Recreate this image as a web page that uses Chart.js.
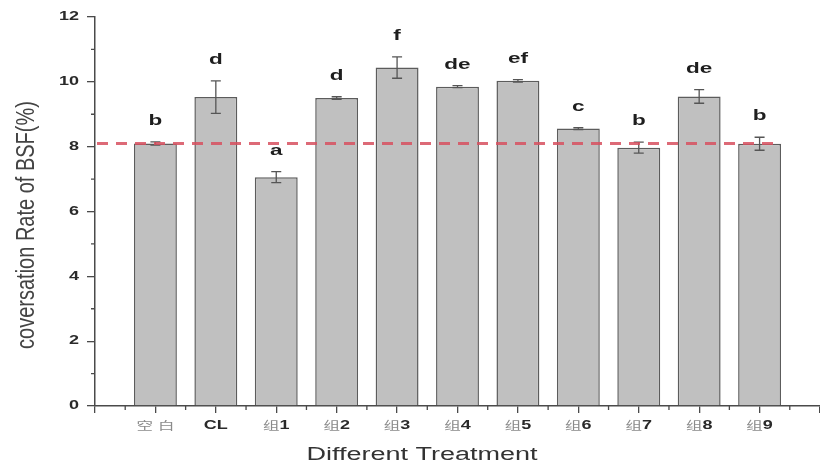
<!DOCTYPE html>
<html>
<head>
<meta charset="utf-8">
<script src="https://cdn.jsdelivr.net/npm/chart.js@4/dist/chart.umd.min.js"></script>
<style>
  html, body { margin: 0; padding: 0; background: #fff; }
  #wrap { width: 820px; height: 464px; }
</style>
</head>
<body>
<div id="wrap"><canvas id="c" width="820" height="464"></canvas></div>
<script>
// Treatments and measured conversion rates (%)
const categories = ['空 白', 'CL', '组1', '组2', '组3', '组4', '组5', '组6', '组7', '组8', '组9'];
const rates      = [8.10, 9.53, 7.06, 9.50, 10.44, 9.85, 10.03, 8.56, 7.97, 9.55, 8.09];
const errors     = [0.05, 0.50, 0.17, 0.04, 0.33, 0.03, 0.04, 0.03, 0.17, 0.21, 0.20];
const groupsSig  = ['b', 'd', 'a', 'd', 'f', 'de', 'ef', 'c', 'b', 'de', 'b'];
const yTicks     = [0, 2, 4, 6, 8, 10, 12];
const controlRate = 8.10;   // blank control reference level

// one empty slot on each side of the treatments along the axis
const axisLabels = [''].concat(categories, ['']);
const barData = [null].concat(rates, [null]);

const SX = 1.5;   // horizontal stretch of all lettering
const LATIN = '"Liberation Sans", Arial, sans-serif';
const CJK = '"Noto Sans CJK SC", sans-serif';

function drawWide(ctx, text, x, y, font, color, align) {
  ctx.save();
  ctx.font = font;
  ctx.fillStyle = color;
  ctx.textBaseline = 'middle';
  ctx.textAlign = 'left';
  const w = ctx.measureText(text).width * SX;
  const x0 = align === 'right' ? x - w : align === 'center' ? x - w / 2 : x;
  ctx.translate(x0, y);
  ctx.scale(SX, 1);
  ctx.fillText(text, 0, 0);
  ctx.restore();
}

// label with CJK parts in a light face and Latin/digits in bold
function drawMixedLabel(ctx, text, cx, cy) {
  const runs = text.match(/[\u4e00-\u9fff]+|[^\u4e00-\u9fff]+/g) || [];
  const parts = runs.map(r => {
    const isCjk = /[\u4e00-\u9fff]/.test(r);
    return {
      text: r,
      font: isCjk ? '400 11px ' + CJK : 'bold 12px ' + LATIN,
      color: isCjk ? '#8a8a8a' : '#2a2a2a'
    };
  });
  let total = 0;
  parts.forEach(p => { ctx.font = p.font; p.w = ctx.measureText(p.text).width * SX; total += p.w; });
  let x = cx - total / 2;
  parts.forEach(p => { drawWide(ctx, p.text, x, cy, p.font, p.color, 'left'); x += p.w; });
}

const decorations = {
  id: 'decorations',
  afterDatasetsDraw(chart) {
    const ctx = chart.ctx;
    const xs = chart.scales.x, ys = chart.scales.y;
    const meta = chart.getDatasetMeta(0);

    // error bars
    ctx.save();
    ctx.strokeStyle = '#555';
    ctx.lineWidth = 1.3;
    rates.forEach((v, i) => {
      const x = xs.getPixelForValue(i + 1);
      const yt = ys.getPixelForValue(v + errors[i]);
      const yb = ys.getPixelForValue(v - errors[i]);
      ctx.beginPath();
      ctx.moveTo(x, yt); ctx.lineTo(x, yb);
      ctx.moveTo(x - 5, yt); ctx.lineTo(x + 5, yt);
      ctx.moveTo(x - 5, yb); ctx.lineTo(x + 5, yb);
      ctx.stroke();
    });
    ctx.restore();

    // control level dashed line
    const last = meta.data[rates.length];
    const xEnd = last.x + last.width / 2;
    const yc = ys.getPixelForValue(controlRate);
    ctx.save();
    ctx.strokeStyle = 'rgba(215,80,95,0.85)';
    ctx.lineWidth = 3;
    ctx.setLineDash([11, 8]);
    ctx.beginPath();
    ctx.moveTo(chart.chartArea.left + 2, yc);
    ctx.lineTo(xEnd, yc);
    ctx.stroke();
    ctx.restore();

    // significance letters
    rates.forEach((v, i) => {
      const x = xs.getPixelForValue(i + 1);
      const y = ys.getPixelForValue(v + errors[i]) - 21;
      drawWide(ctx, groupsSig[i], x, y, 'bold 15px ' + LATIN, '#1e1e1e', 'center');
    });
  },
  afterDraw(chart) {
    const ctx = chart.ctx;
    const xs = chart.scales.x, ys = chart.scales.y;
    const area = chart.chartArea;

    // minor tick marks
    ctx.save();
    ctx.strokeStyle = '#4a4a4a';
    ctx.lineWidth = 1.3;
    ctx.beginPath();
    for (let v = 1; v < 12; v += 2) {
      const y = ys.getPixelForValue(v);
      ctx.moveTo(area.left - 4, y); ctx.lineTo(area.left, y);
    }
    for (let i = 0; i < axisLabels.length - 1; i++) {
      const x = (xs.getPixelForValue(i) + xs.getPixelForValue(i + 1)) / 2;
      ctx.moveTo(x, area.bottom); ctx.lineTo(x, area.bottom + 4);
    }
    ctx.stroke();
    ctx.restore();

    // y tick labels
    yTicks.forEach(v => {
      drawWide(ctx, String(v), area.left - 16, ys.getPixelForValue(v), 'bold 12px ' + LATIN, '#2a2a2a', 'right');
    });

    // x tick labels
    categories.forEach((c, i) => {
      drawMixedLabel(ctx, c, xs.getPixelForValue(i + 1), area.bottom + 20);
    });

    // axis titles
    drawWide(ctx, 'Different Treatment', 422, 455, '18px ' + LATIN, '#333', 'center');
    ctx.save();
    ctx.translate(27, 225);
    ctx.rotate(-Math.PI / 2);
    ctx.scale(1, 1.3);
    ctx.font = '20px ' + LATIN;
    ctx.fillStyle = '#444';
    ctx.textAlign = 'center';
    ctx.textBaseline = 'middle';
    ctx.fillText('coversation Rate of BSF(%)', 0, 0);
    ctx.restore();
  }
};

new Chart(document.getElementById('c'), {
  type: 'bar',
  data: {
    labels: axisLabels,
    datasets: [{
      data: barData,
      backgroundColor: '#c0c0c0',
      borderColor: '#5c5c5c',
      borderWidth: 1.5,
      barPercentage: 0.71,
      categoryPercentage: 1.0
    }]
  },
  options: {
    responsive: false,
    animation: false,
    devicePixelRatio: 1,
    layout: { padding: { top: 17, right: 0, left: 0, bottom: 0 } },
    plugins: { legend: { display: false }, tooltip: { enabled: false } },
    scales: {
      x: {
        type: 'category',
        offset: false,
        border: { display: true, color: '#4a4a4a', width: 1.5 },
        grid: { offset: false, drawOnChartArea: false, drawTicks: true, tickLength: 7, color: '#4a4a4a', lineWidth: 1.3 },
        ticks: { display: false, autoSkip: false },
        afterFit(scale) { scale.height = 58; }
      },
      y: {
        min: 0,
        max: 12,
        border: { display: true, color: '#4a4a4a', width: 1.5 },
        grid: { drawOnChartArea: false, drawTicks: true, tickLength: 8, color: '#4a4a4a', lineWidth: 1.3 },
        ticks: { display: false, stepSize: 2 },
        afterFit(scale) { scale.width = 95; }
      }
    }
  },
  plugins: [decorations]
});
</script>
</body>
</html>
